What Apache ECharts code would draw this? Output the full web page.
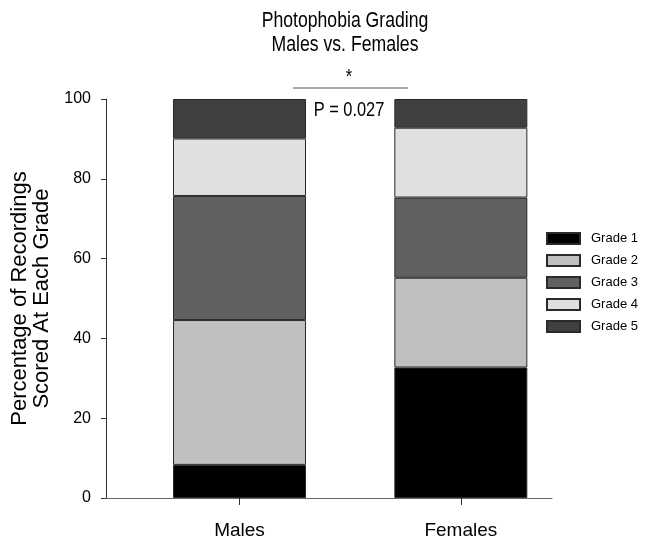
<!DOCTYPE html>
<html>
<head>
<meta charset="utf-8">
<script src="https://cdn.jsdelivr.net/npm/echarts@6/dist/echarts.min.js"></script>
<style>
  html, body { margin: 0; padding: 0; background: #fff; }
  #chart { width: 645px; height: 539px; }
</style>
</head>
<body>
<div id="chart"></div>
<script>
// Percentage of recordings at each photophobia grade, per sex
const categories = ['Males', 'Females'];
const gradeNames = ['Grade 1', 'Grade 2', 'Grade 3', 'Grade 4', 'Grade 5'];
const grade1 = [8.3, 32.7];
const grade2 = [36.3, 22.5];
const grade3 = [31.1, 20.1];
const grade4 = [14.4, 17.5];
const grade5 = [9.9, 7.2];
const yTicks = [0, 20, 40, 60, 80, 100];
const pValueText = 'P = 0.027';

const gradeValues = [grade1, grade2, grade3, grade4, grade5];
const gradeColors = ['#000000', '#c0c0c0', '#606060', '#e0e0e0', '#404040'];
const FONT = '"Liberation Sans", Arial, sans-serif';
// horizontal squeeze for the heading texts (condensed look)
const SQUEEZE = 0.82;

const chart = echarts.init(document.getElementById('chart'), null, { renderer: 'canvas' });

const series = gradeNames.map((name, i) => ({
  name: name,
  type: 'bar',
  stack: 'grades',
  xAxisIndex: 0,
  yAxisIndex: 0,
  barWidth: 133,
  data: gradeValues[i],
  itemStyle: { color: gradeColors[i], borderColor: '#2a2a2a', borderWidth: 1 },
  emphasis: { disabled: true }
}));

function squeezedText(text, x, y, size) {
  return {
    type: 'text', x: x, y: y, scaleX: SQUEEZE, scaleY: 1,
    style: { text: text, x: 0, y: 0, align: 'center', verticalAlign: 'middle',
             font: size + 'px ' + FONT, fill: '#000' }
  };
}

chart.setOption({
  animation: false,
  backgroundColor: '#ffffff',
  textStyle: { fontFamily: FONT, color: '#000' },
  grid: [
    // bars and category ticks
    { left: 128.85, right: 73.5, top: 99, bottom: 41, containLabel: false, outerBoundsMode: 'none' },
    // frame axes
    { left: 106, right: 93, top: 99, bottom: 41, containLabel: false, outerBoundsMode: 'none' }
  ],
  xAxis: [
    {
      type: 'category', gridIndex: 0, data: categories,
      axisLine: { show: false },
      axisTick: { show: true, alignWithLabel: true, length: 7, lineStyle: { color: '#333' } },
      axisLabel: { fontSize: 19, color: '#000', margin: 23, fontFamily: FONT },
      splitLine: { show: false }
    },
    {
      type: 'value', gridIndex: 1, min: 0, max: 1,
      axisLine: { show: true, lineStyle: { color: '#666', width: 1 } },
      axisTick: { show: false }, axisLabel: { show: false }, splitLine: { show: false }
    }
  ],
  yAxis: [
    {
      type: 'value', gridIndex: 0, min: yTicks[0], max: yTicks[yTicks.length - 1],
      show: false
    },
    {
      type: 'value', gridIndex: 1, min: yTicks[0], max: yTicks[yTicks.length - 1],
      interval: yTicks[1] - yTicks[0],
      name: 'Percentage of Recordings\nScored At Each Grade',
      nameLocation: 'middle', nameRotate: 90, nameGap: 47,
      nameTextStyle: { fontSize: 22, lineHeight: 22, color: '#000', fontFamily: FONT },
      axisLine: { show: true, lineStyle: { color: '#333', width: 1 } },
      axisTick: { show: true, inside: false, length: 5, lineStyle: { color: '#333' } },
      axisLabel: { fontSize: 16, color: '#000', margin: 15, fontFamily: FONT },
      splitLine: { show: false }
    }
  ],
  legend: {
    orient: 'vertical',
    left: 541, top: 227,
    itemWidth: 33, itemHeight: 11, itemGap: 9,
    icon: 'rect',
    data: gradeNames,
    textStyle: { fontSize: 13, color: '#000', fontFamily: FONT, padding: [0, 0, 0, 6] },
    selectedMode: false
  },
  graphic: [
    squeezedText('Photophobia Grading', 345, 21, 21.5),
    squeezedText('Males vs. Females', 345, 45, 21.5),
    squeezedText('*', 349, 77, 20),
    {
      type: 'line',
      shape: { x1: 293, y1: 88, x2: 408, y2: 88 },
      style: { stroke: '#555', lineWidth: 1 }
    },
    squeezedText(pValueText, 349, 110, 20)
  ],
  series: series
});
</script>
</body>
</html>
